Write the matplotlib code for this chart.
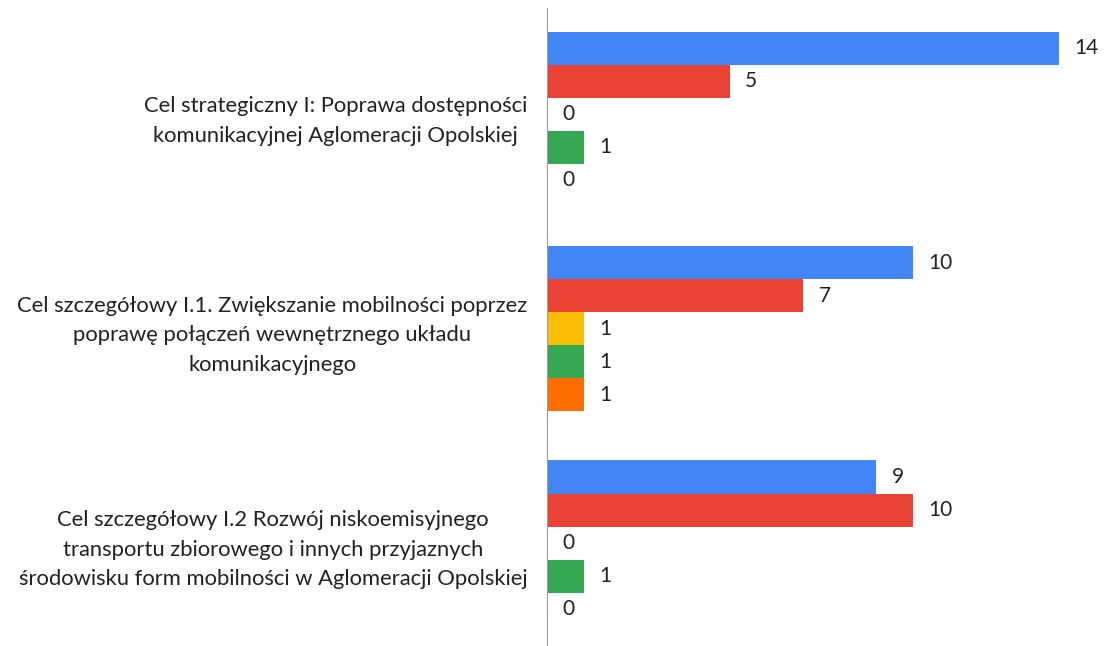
import numpy as np
from matplotlib import pyplot as plt

# Data
categories = [
    "Cel strategiczny I: Poprawa dostępności\nkomunikacyjnej Aglomeracji Opolskiej",
    "Cel szczegółowy I.1. Zwiększanie mobilności poprzez\npoprawę połączeń wewnętrznego układu\nkomunikacyjnego",
    "Cel szczegółowy I.2 Rozwój niskoemisyjnego\ntransportu zbiorowego i innych przyjaznych\nśrodowisku form mobilności w Aglomeracji Opolskiej",
]
series_1 = [14, 10, 9]
series_2 = [5, 7, 10]
series_3 = [0, 1, 0]
series_4 = [1, 1, 1]
series_5 = [0, 1, 0]
colors = ["#4285F4", "#EA4335", "#FBBC04", "#34A853", "#FF6D01"]

plt.rcParams['font.family'] = ['Lato', 'DejaVu Sans']

fig = plt.figure(figsize=(11.07, 6.46), dpi=100)
ax = fig.add_axes([547/1107, 0.0, 1 - 547/1107, 638/646])

all_series = [series_1, series_2, series_3, series_4, series_5]
y = np.arange(len(categories))
h = 0.154

for i, (vals, c) in enumerate(zip(all_series, colors)):
    pos = y + (i - 2) * h
    ax.barh(pos, vals, height=h, color=c)
    for p, v in zip(pos, vals):
        ax.annotate(str(v), (v, p), xytext=(11, 0), textcoords="offset points",
                    va="center", ha="left", fontsize=15, color="#222222")

ax.set_xlim(0, 15.3)
ax.set_ylim(2.48, -0.495)
ax.set_yticks(y)
ax.set_yticklabels(categories, fontsize=15.8, color="#222222", linespacing=1.6)
for t in ax.get_yticklabels():
    t.set_multialignment("center")
ax.tick_params(axis="y", length=0, pad=14)
ax.set_xticks([])
for s in ["top", "right", "bottom"]:
    ax.spines[s].set_visible(False)
ax.spines["left"].set_color("#9e9e9e")

fig.savefig("out.png", dpi=100)
